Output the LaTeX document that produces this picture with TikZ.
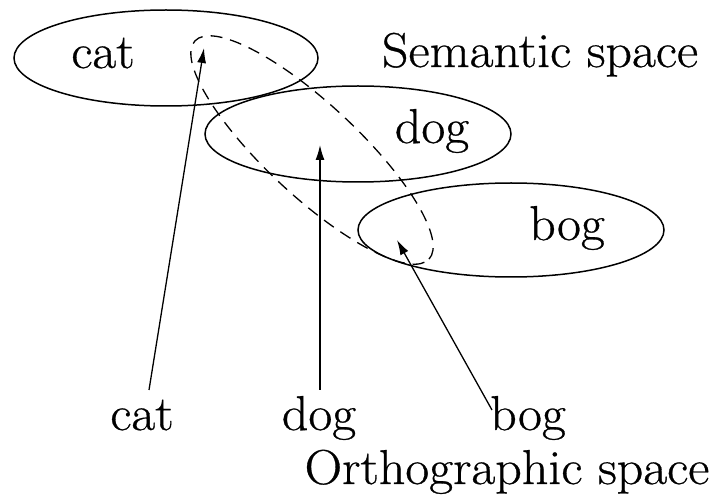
\documentclass[tikz,border=0pt]{standalone}
\usepackage{fontspec}
\setmainfont{Latin Modern Roman}[FakeStretch=1.06,FakeBold=0.6]
\usetikzlibrary{arrows.meta}
\begin{document}
\begin{tikzpicture}[x=1pt,y=-1pt,
  space/.style={draw=black,line width=1.5pt},
  word/.style={inner sep=0pt,anchor=base,font=\fontsize{49}{58}\selectfont},
  link/.style={line width=1.3pt,-{Latex[length=15pt,width=9pt]}}]
\useasboundingbox (0,0) rectangle (716,497);
% semantic ellipses
\draw[space] (166,58) ellipse [x radius=152pt, y radius=48pt];
\draw[space] (358,134) ellipse [x radius=153pt, y radius=48pt];
\draw[space] (511,230) ellipse [x radius=153pt, y radius=47pt];
% dashed grouping ellipse
\draw[line width=1.3pt,dash pattern=on 12pt off 8pt,rotate around={-43:(312,150)}]
  (312,150) ellipse [x radius=160pt, y radius=46pt];
% words in semantic space
\node[word] (scat) at (103,68) {cat};
\node[word] (sdog) at (432,143) {dog};
\node[word] (sbog) at (567,240) {bog};
\node[word] (sem) at (540,67) {Semantic space};
% orthographic words
\node[word] (ocat) at (142,430) {cat};
\node[word] (odog) at (319,430) {dog};
\node[word] (obog) at (528,430) {bog};
\node[word] (orth) at (507,484) {Orthographic space};
% connector ends
\coordinate (catfoot) at (149,390);
\coordinate (dogfoot) at (320,390);
\coordinate (bogfoot) at (492,410);
\coordinate (cattip) at (204,48);
\coordinate (dogtip) at (320,145);
\coordinate (bogtip) at (397,240);
\draw[link] (catfoot) -- (cattip);
\draw[link] (dogfoot) -- (dogtip);
\draw[link] (bogfoot) -- (bogtip);
\end{tikzpicture}
\end{document}
